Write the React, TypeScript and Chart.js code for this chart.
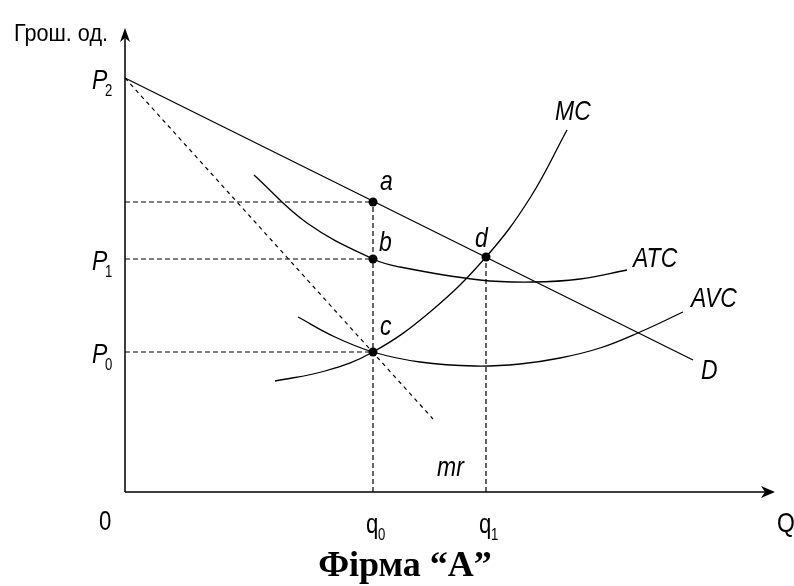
import React, { useEffect, useRef } from "react";
import { Chart, registerables } from "chart.js";

Chart.register(...registerables);

// Quantity (Q) and money units (Грош. од.)
const demandQ = [0, 56.8];
const demandP = [41.4, 13.2];
const mrQ = [0, 30.8];
const mrP = [41.4, 7.3];
const mcQ = [15.0, 20.0, 24.8, 30.5, 36.1, 40.5, 44.2];
const mcP = [11.1, 12.1, 14.0, 18.0, 23.5, 29.4, 36.2];
const atcQ = [12.9, 18.2, 24.8, 27.5, 35.5, 40.8, 45.5, 50.2];
const atcP = [31.7, 26.9, 23.3, 22.5, 21.2, 21.0, 21.3, 22.2];
const avcQ = [17.3, 21.0, 24.8, 29.5, 35.0, 39.5, 43.5, 47.5, 51.5, 55.8];
const avcP = [17.5, 15.5, 14.0, 13.0, 12.6, 12.8, 13.4, 14.4, 16.0, 18.0];

const q0 = 24.8;
const q1 = 36.1;
const pA = 29.0;
const P1 = 23.3;
const P0 = 14.0;
const P2 = 41.4;
const pD = 23.5;

const pointNames = ["a", "b", "c", "d"];
const pointQ = [q0, q0, q0, q1];
const pointP = [pA, P1, P0, pD];

const Q_MAX = 65;
const P_MAX = 46.4;

const xy = (xs: number[], ys: number[]) => xs.map((x, i) => ({ x, y: ys[i] }));

const NARROW = 0.82;
const SANS = '"Liberation Sans", Arial, sans-serif';

function drawText(
  ctx: CanvasRenderingContext2D,
  text: string,
  x: number,
  y: number,
  size: number,
  italic: boolean,
  sx = NARROW
) {
  ctx.save();
  ctx.translate(x, y);
  ctx.scale(sx, 1);
  ctx.font = `${italic ? "italic " : ""}${size}px ${SANS}`;
  ctx.textAlign = "left";
  ctx.textBaseline = "alphabetic";
  ctx.fillStyle = "#000";
  ctx.fillText(text, 0, 0);
  ctx.restore();
}

const overlay = {
  id: "econOverlay",
  afterDatasetsDraw(chart: any) {
    const ctx: CanvasRenderingContext2D = chart.ctx;
    const xs = chart.scales.x;
    const ys = chart.scales.y;
    const X = (v: number) => xs.getPixelForValue(v);
    const Y = (v: number) => ys.getPixelForValue(v);
    const ox = X(0);
    const oy = Y(0);
    const tipY = Y(P_MAX);
    const tipX = X(Q_MAX);

    ctx.save();
    ctx.strokeStyle = "#000";
    ctx.fillStyle = "#000";
    ctx.lineWidth = 1.5;
    ctx.setLineDash([]);
    // axes
    ctx.beginPath();
    ctx.moveTo(ox, oy);
    ctx.lineTo(ox, tipY + 6);
    ctx.moveTo(ox, oy);
    ctx.lineTo(tipX - 6, oy);
    ctx.stroke();
    // arrow heads
    ctx.beginPath();
    ctx.moveTo(ox, tipY);
    ctx.lineTo(ox - 5, tipY + 14);
    ctx.lineTo(ox, tipY + 10);
    ctx.lineTo(ox + 5, tipY + 14);
    ctx.closePath();
    ctx.fill();
    ctx.beginPath();
    ctx.moveTo(tipX, oy);
    ctx.lineTo(tipX - 14, oy - 6);
    ctx.lineTo(tipX - 10, oy);
    ctx.lineTo(tipX - 14, oy + 6);
    ctx.closePath();
    ctx.fill();
    ctx.restore();

    // axis labels
    drawText(ctx, "Грош. од.", 14, 41, 24, false, 0.9);
    drawText(ctx, "0", ox - 26, oy + 38, 27, false);
    drawText(ctx, "Q", tipX + 2, oy + 40, 28, false);

    // price labels
    const pLabels: [string, number][] = [["2", P2], ["1", P1], ["0", P0]];
    pLabels.forEach(([sub, v]) => {
      const py = Y(v);
      drawText(ctx, "P", ox - 33, py + 11, 28, true);
      drawText(ctx, sub, ox - 20, py + 18, 16, false);
    });

    // quantity labels
    const qLabels: [string, number][] = [["0", q0], ["1", q1]];
    qLabels.forEach(([sub, v]) => {
      const px = X(v);
      drawText(ctx, "q", px - 7, oy + 41, 27, false);
      drawText(ctx, sub, px + 5, oy + 48, 16, false);
    });

    // point labels
    const offs: [number, number][] = [[7, -12], [6, -8], [7, -17], [-11, -10]];
    pointNames.forEach((n, i) => {
      drawText(ctx, n, X(pointQ[i]) + offs[i][0], Y(pointP[i]) + offs[i][1], 28, true);
    });

    // curve labels
    const last = (a: number[]) => a[a.length - 1];
    drawText(ctx, "MC", X(last(mcQ)) - 12, Y(last(mcP)) - 10, 28, true);
    drawText(ctx, "ATC", X(last(atcQ)) + 6, Y(last(atcP)) - 3, 28, true);
    drawText(ctx, "AVC", X(last(avcQ)) + 8, Y(last(avcP)) - 5, 28, true);
    drawText(ctx, "D", X(last(demandQ)) + 8, Y(last(demandP)) + 19, 28, true);
    drawText(ctx, "mr", X(last(mrQ)) + 4, Y(last(mrP)) + 57, 28, true);

    // title
    ctx.save();
    ctx.font = 'bold 36px "Liberation Serif", "Times New Roman", serif';
    ctx.textAlign = "center";
    ctx.textBaseline = "alphabetic";
    ctx.fillStyle = "#000";
    ctx.fillText("Фірма “А”", 405, 576);
    ctx.restore();
  },
};

export default function App() {
  const ref = useRef<HTMLCanvasElement | null>(null);
  useEffect(() => {
    if (!ref.current) return;
    const solid = (data: any) => ({
      data,
      showLine: true,
      borderColor: "#000",
      borderWidth: 1.3,
      pointRadius: 0,
      fill: false,
      tension: 0,
      clip: false,
    });
    const curve = (data: any) => ({ ...solid(data), tension: 0.4 });
    const dashed = (data: any, dash: number[]) => ({ ...solid(data), borderDash: dash, borderWidth: 1.2 });

    const chart = new Chart(ref.current, {
      type: "scatter",
      data: {
        datasets: [
          dashed(xy([0, q0], [pA, pA]), [5, 3]),
          dashed(xy([0, q0], [P1, P1]), [5, 3]),
          dashed(xy([0, q0], [P0, P0]), [5, 3]),
          dashed(xy([q0, q0], [0, pA]), [5, 3]),
          dashed(xy([q1, q1], [0, pD]), [5, 3]),
          dashed(xy(mrQ, mrP), [4, 4]),
          solid(xy(demandQ, demandP)),
          curve(xy(mcQ, mcP)),
          curve(xy(atcQ, atcP)),
          curve(xy(avcQ, avcP)),
          {
            data: xy(pointQ, pointP),
            showLine: false,
            pointRadius: 4.5,
            pointBackgroundColor: "#000",
            pointBorderColor: "#000",
            pointBorderWidth: 0,
            clip: false,
          },
        ] as any,
      },
      options: {
        animation: false,
        responsive: false,
        events: [],
        layout: { padding: { left: 125, right: 19, top: 28, bottom: 94 } },
        plugins: { legend: { display: false }, tooltip: { enabled: false }, title: { display: false } },
        scales: {
          x: { type: "linear", min: 0, max: Q_MAX, display: false },
          y: { type: "linear", min: 0, max: P_MAX, display: false },
        },
      },
      plugins: [overlay],
    });
    return () => chart.destroy();
  }, []);
  return (
    <div style={{ position: "absolute", left: 0, top: 0, width: 794, height: 586, background: "#fff" }}>
      <canvas ref={ref} width={794} height={586} style={{ display: "block" }} />
    </div>
  );
}
